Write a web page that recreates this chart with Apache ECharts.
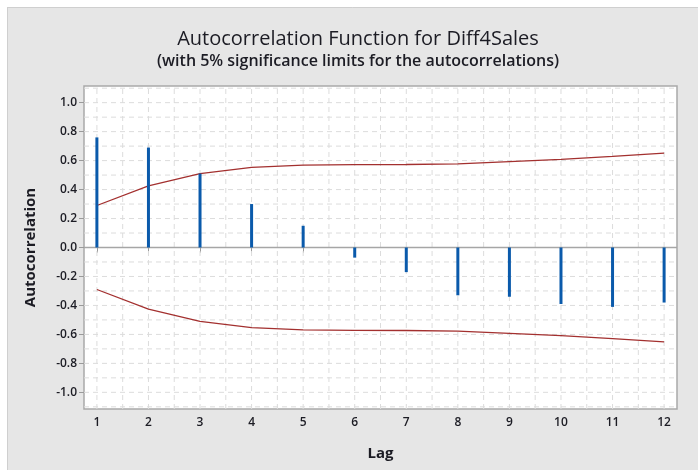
<!DOCTYPE html>
<html>
<head>
<meta charset="utf-8">
<title>Autocorrelation Function for Diff4Sales</title>
<script src="https://cdn.jsdelivr.net/npm/echarts@6/dist/echarts.min.js"></script>
<style>
  html, body { margin: 0; padding: 0; background: #ffffff; }
  #chart { width: 698px; height: 470px; }
</style>
</head>
<body>
<div id="chart"></div>
<script>
// Lags and sample autocorrelations of Diff4Sales
const lags = [1, 2, 3, 4, 5, 6, 7, 8, 9, 10, 11, 12];
const acf = [0.76, 0.69, 0.51, 0.30, 0.15, -0.07, -0.17, -0.33, -0.34, -0.39, -0.41, -0.38];
// Upper 5% significance limit at each lag (lower limit is its negative)
const upperLimit = [0.29, 0.425, 0.51, 0.553, 0.569, 0.572, 0.573, 0.578, 0.593, 0.609, 0.629, 0.651];
const lowerLimit = upperLimit.map(v => -v);

// Tick labels
const xTicks = lags;
const yTicks = [-1.0, -0.8, -0.6, -0.4, -0.2, 0.0, 0.2, 0.4, 0.6, 0.8, 1.0];

// Axis extents
const X_MIN = 0.75, X_MAX = 12.25;
const Y_MIN = -1.115, Y_MAX = 1.115;

// Dashed reference grid: every half lag, every 0.1 of correlation
const gridRows = [];
for (let i = -11; i <= 11; i++) gridRows.push([0, i / 10]);
for (let i = 2; i <= 24; i++) gridRows.push([1, i / 2]);
gridRows.push([2, 0]); // zero line

const FONT = '"Open Sans", "Noto Sans", sans-serif';
const TEXT = '#1c1c24';

const chart = echarts.init(document.getElementById('chart'), null, { renderer: 'canvas' });

const option = {
  backgroundColor: '#e6e6e6',
  animation: false,
  graphic: [
    { type: 'rect', shape: { x: 0, y: 0, width: 698, height: 7 }, style: { fill: '#ffffff' }, silent: true },
    { type: 'rect', shape: { x: 0, y: 0, width: 7, height: 470 }, style: { fill: '#ffffff' }, silent: true },
    { type: 'line', shape: { x1: 7, y1: 7.5, x2: 698, y2: 7.5 }, style: { stroke: '#cfcfcf', lineWidth: 1 }, silent: true },
    { type: 'line', shape: { x1: 7.5, y1: 7, x2: 7.5, y2: 470 }, style: { stroke: '#cfcfcf', lineWidth: 1 }, silent: true },
    {
      type: 'text', x: 358, y: 39,
      style: {
        text: 'Autocorrelation Function for Diff4Sales',
        font: '20px ' + FONT, fill: TEXT,
        textAlign: 'center', textVerticalAlign: 'middle'
      }
    },
    {
      type: 'text', x: 358, y: 61,
      style: {
        text: '(with 5% significance limits for the autocorrelations)',
        font: '600 16px ' + FONT, fill: TEXT,
        textAlign: 'center', textVerticalAlign: 'middle'
      }
    }
  ],
  grid: {
    left: 84, top: 86, width: 593, height: 323,
    show: true, backgroundColor: '#ffffff',
    borderColor: '#a9a9a9', borderWidth: 1.5
  },
  xAxis: {
    type: 'value', min: X_MIN, max: X_MAX,
    name: 'Lag', nameLocation: 'middle', nameGap: 37,
    nameTextStyle: { fontFamily: FONT, fontSize: 15, fontWeight: 'bold', color: TEXT },
    axisLine: { show: false },
    axisTick: { show: true, customValues: xTicks, length: 5, lineStyle: { color: '#9a9a9a', width: 1 } },
    axisLabel: {
      customValues: xTicks, margin: 8,
      fontFamily: FONT, fontSize: 12, fontWeight: 600, color: TEXT
    },
    splitLine: { show: false }
  },
  yAxis: {
    type: 'value', min: Y_MIN, max: Y_MAX,
    name: 'Autocorrelation', nameLocation: 'middle', nameGap: 46, nameRotate: 90,
    nameTextStyle: { fontFamily: FONT, fontSize: 15, fontWeight: 'bold', color: TEXT },
    axisLine: { show: false },
    axisTick: { show: true, customValues: yTicks, length: 5, lineStyle: { color: '#9a9a9a', width: 1 } },
    axisLabel: {
      customValues: yTicks, margin: 7,
      fontFamily: FONT, fontSize: 12, fontWeight: 600, color: TEXT,
      formatter: v => v.toFixed(1)
    },
    splitLine: { show: false }
  },
  series: [
    {
      name: 'grid',
      type: 'custom',
      silent: true,
      z: 1,
      clip: true,
      data: gridRows,
      renderItem: function (params, api) {
        const kind = api.value(0);
        const v = api.value(1);
        let p1, p2;
        if (kind === 1) {
          p1 = api.coord([v, Y_MIN]);
          p2 = api.coord([v, Y_MAX]);
        } else {
          p1 = api.coord([X_MIN, v]);
          p2 = api.coord([X_MAX, v]);
        }
        const zero = kind === 2;
        return {
          type: 'line',
          shape: { x1: p1[0], y1: p1[1], x2: p2[0], y2: p2[1] },
          style: zero
            ? { stroke: '#a6a6a6', lineWidth: 1.5 }
            : { stroke: '#dcdcdc', lineWidth: 1, lineDash: [5, 4] },
          z2: zero ? 5 : 0
        };
      }
    },
    {
      name: 'Upper limit',
      type: 'line',
      z: 3,
      data: lags.map((l, i) => [l, upperLimit[i]]),
      symbol: 'none',
      lineStyle: { color: '#a3302f', width: 1.3 }
    },
    {
      name: 'Lower limit',
      type: 'line',
      z: 3,
      data: lags.map((l, i) => [l, lowerLimit[i]]),
      symbol: 'none',
      lineStyle: { color: '#a3302f', width: 1.3 }
    },
    {
      name: 'ACF',
      type: 'bar',
      z: 4,
      barWidth: 3,
      data: lags.map((l, i) => [l, acf[i]]),
      itemStyle: { color: '#0a5aab' }
    }
  ]
};

chart.setOption(option);
</script>
</body>
</html>
